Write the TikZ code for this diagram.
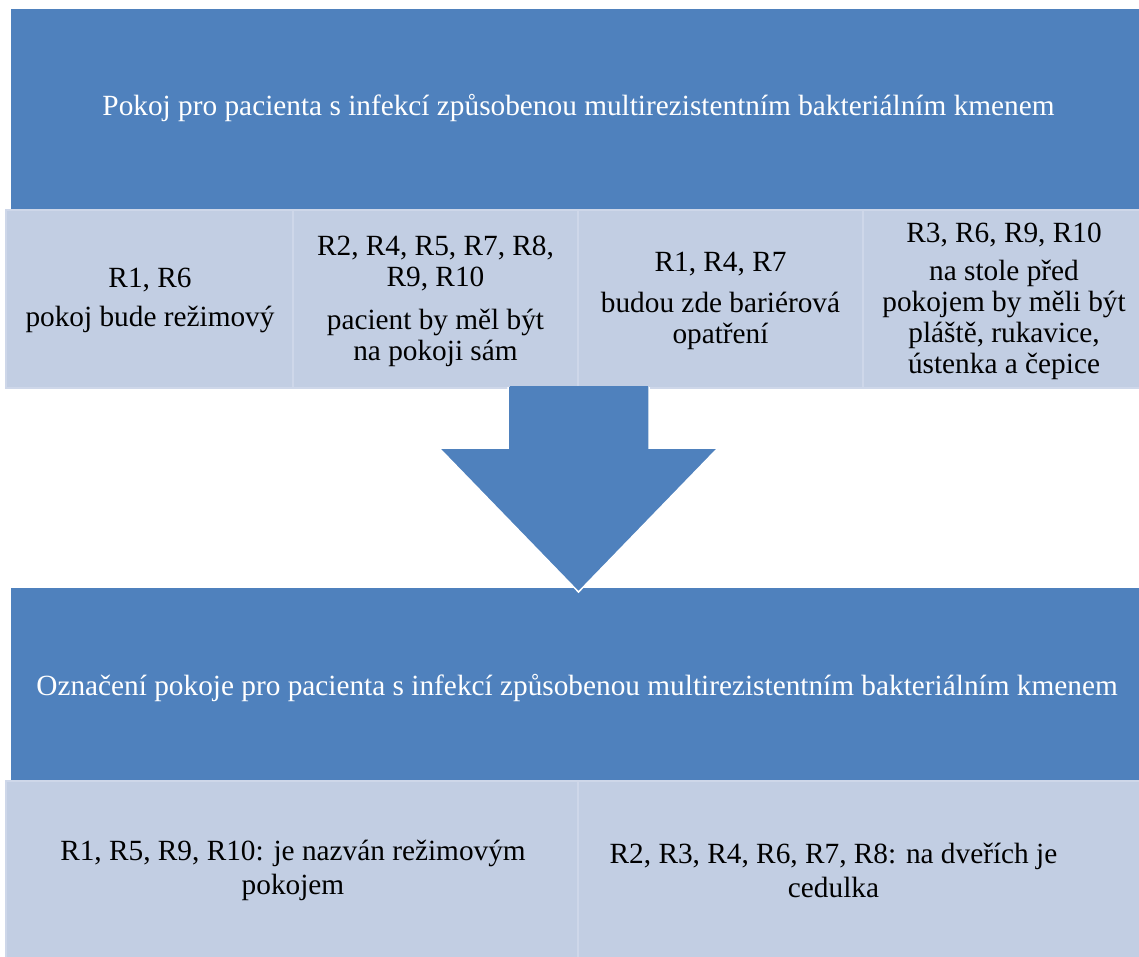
\documentclass[tikz,border=0pt]{standalone}
\usepackage{fontspec}
\setmainfont{Liberation Serif}
\definecolor{hdrblue}{RGB}{79,129,189}
\definecolor{cellfill}{RGB}{194,206,227}
\definecolor{celledge}{RGB}{206,215,233}
\begin{document}
\begin{tikzpicture}[x=1pt,y=-1pt,
  txt/.style={font=\fontsize{29.3}{31}\selectfont,align=center},
  header/.style={fill=hdrblue,inner sep=0pt,minimum height=201pt},
  cell/.style={fill=cellfill,draw=celledge,line width=2.5pt,inner sep=0pt},
  blockarrow/.style={fill=hdrblue,draw=white,line width=1.5pt,line join=miter}]
\useasboundingbox (0,0) rectangle (1139,956);
\clip (0,0) rectangle (1139,956);

% upper header and its four cells
\node[header,minimum width=1140pt] (top) at (581,109.5) {};
\node[txt,text=white] (toptext) at (578.5,108)
  {Pokoj pro pacienta s infekcí způsobenou multirezistentním bakteriálním kmenem};

\node[cell,minimum width=287pt,minimum height=178pt] (c1) at (149.5,299) {};
\node[cell,minimum width=285pt,minimum height=178pt] (c2) at (435.5,299) {};
\node[cell,minimum width=285pt,minimum height=178pt] (c3) at (720.5,299) {};
\node[cell,minimum width=287pt,minimum height=178pt] (c4) at (1006.5,299) {};

\node[txt] (t1) at (150,300)
  {R1, R6\\[8pt] pokoj bude režimový};
\node[txt] (t2) at (435.5,301)
  {R2, R4, R5, R7, R8,\\ R9, R10\\[12pt] pacient by měl být\\ na pokoji sám};
\node[txt] (t3) at (720.5,301)
  {R1, R4, R7\\[10pt] budou zde bariérová\\ opatření};
\node[txt] (t4) at (1004,301)
  {R3, R6, R9, R10\\[7pt] na stole před\\ pokojem by měli být\\ pláště, rukavice,\\ ústenka a čepice};

% lower header and its two cells
\node[header,minimum width=1140pt,minimum height=193pt] (bottom) at (581,684.5) {};
\node[txt,text=white] (bottomtext) at (577,688)
  {Označení pokoje pro pacienta s infekcí způsobenou multirezistentním bakteriálním kmenem};

\node[cell,minimum width=572pt,minimum height=190pt] (d1) at (292,876) {};
\node[cell,minimum width=572pt,minimum height=190pt] (d2) at (864,876) {};
\node[txt] (u1) at (293,870)
  {R1, R5, R9, R10: je nazván režimovým\\[3pt] pokojem};
\node[txt] (u2) at (833.5,870)
  {R2, R3, R4, R6, R7, R8: na dveřích je\\[3pt] cedulka};

% block arrow from the upper cells down to the lower header
\coordinate (tip) at (578.5,592);
\draw[blockarrow] (508,387) -- (508,448) -- (439,448) -- (tip) -- (718,448)
  -- (649,448) -- (649,387);
\fill[hdrblue] (509.5,386) rectangle (647.5,452);
\end{tikzpicture}
\end{document}
